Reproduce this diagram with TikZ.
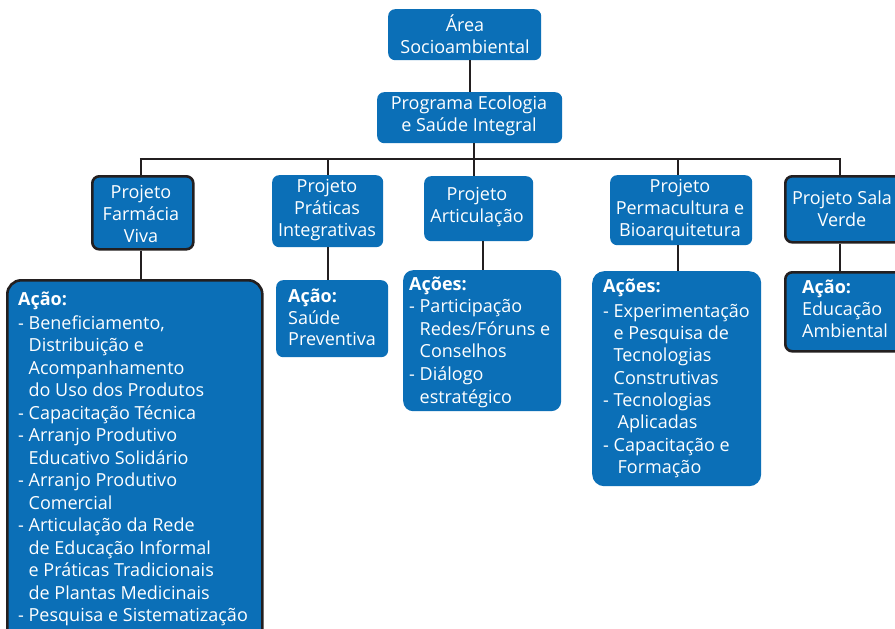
\documentclass[tikz,border=0pt]{standalone}
\usepackage{fontspec}
\setmainfont{Open Sans}
\usetikzlibrary{calc}
\definecolor{boxblue}{HTML}{0B6FB7}
\definecolor{linedark}{HTML}{231F20}
\newcommand{\ind}{\phantom{- }}
\newcommand{\indb}{\phantom{- }\hspace*{4pt}}
\begin{document}
\begin{tikzpicture}[x=1pt,y=-1pt,
  conn/.style={draw=linedark, line width=2.4pt},
  hbox/.style={fill=boxblue, rounded corners=7pt, inner sep=0pt, anchor=north west},
  outl/.style={draw=linedark, line width=2.6pt},
  htext/.style={text=white, align=center, inner sep=0pt, font=\fontsize{18}{22}\selectfont},
  atext/.style={text=white, inner sep=0pt, anchor=base west, font=\fontsize{18}{22.5}\selectfont}]
\useasboundingbox (0,0) rectangle (895,629);
\clip (0,0) rectangle (895,629);
\fill[white] (0,0) rectangle (895,629);

% header boxes
\node[hbox, minimum width=153pt, minimum height=51pt] (area) at (388,9) {};
\node[htext] (area-t) at (465,34) {Área\\Socioambiental};
\node[hbox, minimum width=185pt, minimum height=51pt] (prog) at (377,92) {};
\node[htext] (prog-t) at (469,116) {Programa Ecologia\\e Saúde Integral};

\node[hbox, outl, minimum width=101pt, minimum height=73pt] (farm) at (91,175) {};
\node[htext] (farm-t) at (141,213.5) {Projeto\\Farmácia\\Viva};
\node[hbox, minimum width=111pt, minimum height=72pt] (prat) at (272,175) {};
\node[htext] (prat-t) at (327,210.5) {Projeto\\Práticas\\Integrativas};
\node[hbox, minimum width=109pt, minimum height=65pt] (artic) at (424,176) {};
\node[htext] (artic-t) at (477,207) {Projeto\\Articulação};
\node[hbox, minimum width=142pt, minimum height=70pt] (perm) at (610,175) {};
\node[htext] (perm-t) at (680,210.5) {Projeto\\Permacultura e\\Bioarquitetura};
\node[hbox, outl, minimum width=120pt, minimum height=66pt] (sala) at (784,175) {};
\node[htext] (sala-t) at (842,208.5) {Projeto Sala\\Verde};

% action boxes
\node[hbox, outl, rounded corners=14pt, minimum width=255pt, minimum height=370pt] (farmA) at (6,279) {};
\node[atext] (farmA-t) at (18,305) {\parbox[t]{250pt}{\fontsize{18}{22.5}\selectfont\raggedright
\textbf{Ação:}\\[1.5pt]
- Beneficiamento,\\
\ind Distribuição e\\
\ind Acompanhamento\\
\ind do Uso dos Produtos\\
- Capacitação Técnica\\
- Arranjo Produtivo\\
\ind Educativo Solidário\\
- Arranjo Produtivo\\
\ind Comercial\\
- Articulação da Rede\\
\ind de Educação Informal\\
\ind e Práticas Tradicionais\\
\ind de Plantas Medicinais\\
- Pesquisa e Sistematização}};

\node[hbox, minimum width=112pt, minimum height=77pt] (pratA) at (276,280) {};
\node[atext] (pratA-t) at (288,302.5) {\parbox[t]{100pt}{\fontsize{18}{21.5}\selectfont\raggedright
\textbf{Ação:}\\
Saúde\\
Preventiva}};

\node[hbox, rounded corners=10pt, minimum width=158pt, minimum height=141pt] (articA) at (403,270) {};
\node[atext] (articA-t) at (409,290) {\parbox[t]{150pt}{\fontsize{18}{22.6}\selectfont\raggedright
\textbf{Ações:}\\
- Participação\\
\ind Redes/Fóruns e\\
\ind Conselhos\\
- Diálogo\\
\ind estratégico}};

\node[hbox, rounded corners=12pt, minimum width=169pt, minimum height=215pt] (permA) at (592,271) {};
\node[atext] (permA-t) at (603,292) {\parbox[t]{160pt}{\fontsize{18}{22.3}\selectfont\raggedright
\textbf{Ações:}\\[3pt]
- Experimentação\\
\ind e Pesquisa de\\
\ind Tecnologias\\
\ind Construtivas\\
- Tecnologias\\
\indb Aplicadas\\
- Capacitação e\\
\indb Formação}};

\node[hbox, outl, minimum width=120pt, minimum height=79pt] (salaA) at (784,271) {};
\node[atext] (salaA-t) at (802,293.5) {\parbox[t]{100pt}{\fontsize{18}{22}\selectfont\raggedright
\textbf{Ação:}\\
Educação\\
Ambiental}};

% connectors
\coordinate (sp1) at (470,0);
\coordinate (sp2) at (474,0);
\coordinate (busL) at (141,159);
\coordinate (busR) at (840,159);
\coordinate (x2) at (328,159);
\coordinate (x3) at (483,0);
\coordinate (x4) at (678,159);
\draw[conn] (sp1 |- area.south) -- (sp1 |- prog.north);
\draw[conn] (sp2 |- prog.south) -- (sp2 |- artic.north);
\draw[conn] ([xshift=-1.2pt]busL) -- ([xshift=1.2pt]busR);
\draw[conn] (busL) -- (busL |- farm.north);
\draw[conn] (x2) -- (x2 |- prat.north);
\draw[conn] (x4) -- (x4 |- perm.north);
\draw[conn] (busR) -- (busR |- sala.north);
\draw[conn] (busL |- farm.south) -- (busL |- farmA.north);
\draw[conn] (x2 |- prat.south) -- (x2 |- pratA.north);
\draw[conn] (x3 |- artic.south) -- (x3 |- articA.north);
\draw[conn] (x4 |- perm.south) -- (x4 |- permA.north);
\draw[conn] (busR |- sala.south) -- (busR |- salaA.north);
\end{tikzpicture}
\end{document}
